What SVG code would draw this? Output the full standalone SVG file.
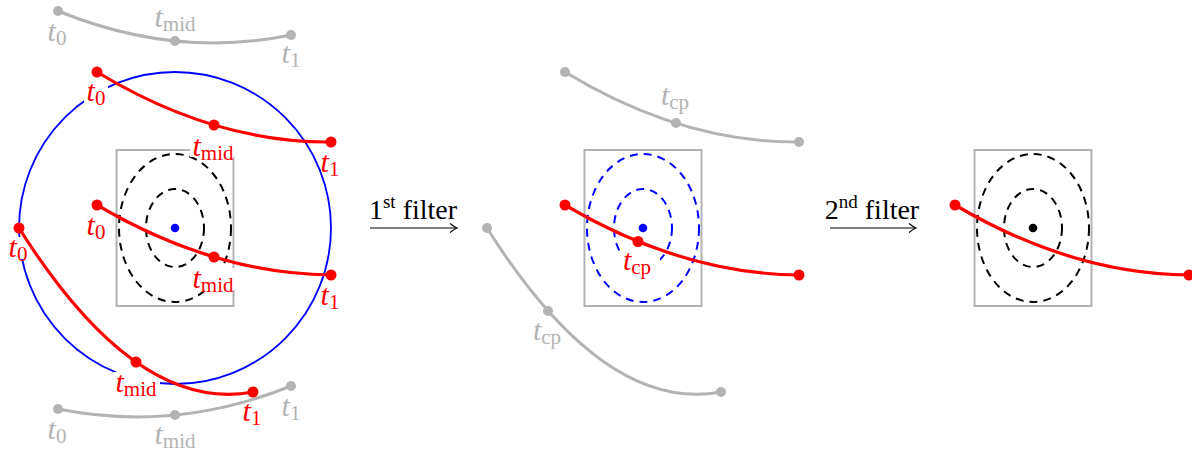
<svg xmlns="http://www.w3.org/2000/svg" width="1192" height="454" viewBox="0 0 1192 454">
<style>
.gl{fill:none;stroke:#b3b3b3;stroke-width:3}
.rl{fill:none;stroke:#ff0000;stroke-width:3.2}
.box{fill:none;stroke:#b3b3b3;stroke-width:2}
.ell{fill:none;stroke:#000;stroke-width:2;stroke-dasharray:8 6}
.bell{fill:none;stroke:#0000ff;stroke-width:2;stroke-dasharray:8 6}
.circ{fill:none;stroke:#0000ff;stroke-width:1.8}
.rd{fill:#ff0000}
.gd{fill:#b3b3b3}
.bg{fill:#fff}
.lbl{font-family:"Liberation Serif","Times New Roman",serif;font-size:30px;text-anchor:middle}
.ft{font-family:"Liberation Serif","Times New Roman",serif;font-size:28px;text-anchor:middle}
.r{fill:#ff0000}
.g{fill:#b3b3b3}
.k{fill:#000}
.t{font-style:italic}
.s{font-size:21px}
.arr{stroke:#000;stroke-width:1.2;fill:none}
</style>
<defs>
<marker id="to" markerUnits="userSpaceOnUse" markerWidth="14" markerHeight="14" refX="0" refY="0" orient="auto" overflow="visible">
<path d="M-7,-4.5 Q-2.5,-1 0,0 Q-2.5,1 -7,4.5" stroke="#000" stroke-width="1.2" fill="none"/>
</marker>
</defs>

<g id="panel-left">
  <g id="left-gray-top">
    <path class="gl" d="M58,11 Q175.5,59 291,35"/>
    <circle class="gd" cx="58" cy="11" r="5"/><circle class="gd" cx="175" cy="41" r="5"/><circle class="gd" cx="291" cy="35" r="5"/>
    <text class="lbl g" x="57" y="41"><tspan class="t">t</tspan><tspan class="s" dy="4">0</tspan></text>
    <text class="lbl g" x="175" y="27"><tspan class="t">t</tspan><tspan class="s" dy="4">mid</tspan></text>
    <text class="lbl g" x="291" y="63"><tspan class="t">t</tspan><tspan class="s" dy="4">1</tspan></text>
  </g>
  <g id="left-gray-bottom">
    <path class="gl" d="M58,409 Q175.5,432.5 291,386"/>
    <circle class="gd" cx="58" cy="409" r="5"/><circle class="gd" cx="175" cy="415" r="5"/><circle class="gd" cx="291" cy="386" r="5"/>
    <text class="lbl g" x="57" y="439"><tspan class="t">t</tspan><tspan class="s" dy="4">0</tspan></text>
    <text class="lbl g" x="175" y="444"><tspan class="t">t</tspan><tspan class="s" dy="4">mid</tspan></text>
    <text class="lbl g" x="291" y="416"><tspan class="t">t</tspan><tspan class="s" dy="4">1</tspan></text>
  </g>
  <circle id="left-circle" class="circ" cx="175" cy="228" r="156"/>
  <g id="left-box">
    <rect class="box" x="116.5" y="150" width="117" height="156"/>
    <ellipse class="ell" cx="175" cy="228" rx="56" ry="74"/>
    <ellipse class="ell" cx="175" cy="228" rx="29" ry="39"/>
    <circle cx="175" cy="228" r="4.3" fill="#0000ff"/>
  </g>
  <g id="left-label-bgs">
    <rect class="bg" x="84" y="81" width="24" height="22"/>
    <rect class="bg" x="190" y="136" width="46" height="21"/>
    <rect class="bg" x="190" y="268" width="46" height="22"/>
    <rect class="bg" x="6" y="237" width="23" height="22"/>
    <rect class="bg" x="114" y="372" width="46" height="22"/>
  </g>
  <g id="left-red-top">
    <path class="rl" d="M97,72 Q214,143 331,142"/>
    <circle class="rd" cx="97" cy="72" r="5.5"/><circle class="rd" cx="214" cy="125" r="5.5"/><circle class="rd" cx="331" cy="142" r="5.5"/>
    <text class="lbl r" x="96" y="101"><tspan class="t">t</tspan><tspan class="s" dy="4">0</tspan></text>
    <text class="lbl r" x="213" y="156"><tspan class="t">t</tspan><tspan class="s" dy="4">mid</tspan></text>
    <text class="lbl r" x="330" y="172"><tspan class="t">t</tspan><tspan class="s" dy="4">1</tspan></text>
  </g>
  <g id="left-red-middle">
    <path class="rl" d="M97,205 Q214,274 331,275"/>
    <circle class="rd" cx="97" cy="205" r="5.5"/><circle class="rd" cx="214" cy="257" r="5.5"/><circle class="rd" cx="331" cy="275" r="5.5"/>
    <text class="lbl r" x="96" y="235"><tspan class="t">t</tspan><tspan class="s" dy="4">0</tspan></text>
    <text class="lbl r" x="213" y="288"><tspan class="t">t</tspan><tspan class="s" dy="4">mid</tspan></text>
    <text class="lbl r" x="330" y="305"><tspan class="t">t</tspan><tspan class="s" dy="4">1</tspan></text>
  </g>
  <g id="left-red-bottom">
    <path class="rl" d="M19,228 Q136,414 253,392"/>
    <circle class="rd" cx="19" cy="228" r="5.5"/><circle class="rd" cx="136" cy="362" r="5.5"/><circle class="rd" cx="253" cy="392" r="5.5"/>
    <text class="lbl r" x="18" y="257"><tspan class="t">t</tspan><tspan class="s" dy="4">0</tspan></text>
    <text class="lbl r" x="136" y="392"><tspan class="t">t</tspan><tspan class="s" dy="4">mid</tspan></text>
    <text class="lbl r" x="252" y="421"><tspan class="t">t</tspan><tspan class="s" dy="4">1</tspan></text>
  </g>
</g>

<g id="connectors">
  <g id="arrow-1">
    <line class="arr" x1="370" y1="228" x2="457" y2="228" marker-end="url(#to)"/>
    <text class="ft k" x="413" y="219">1<tspan font-size="19" dy="-11">st</tspan><tspan dy="11"> filter</tspan></text>
  </g>
  <g id="arrow-2">
    <line class="arr" x1="830" y1="228" x2="916" y2="228" marker-end="url(#to)"/>
    <text class="ft k" x="872" y="219">2<tspan font-size="19" dy="-11">nd</tspan><tspan dy="11"> filter</tspan></text>
  </g>
</g>

<g id="panel-middle">
  <g id="mid-gray-top">
    <path class="gl" d="M565,72 Q682,143 799,142"/>
    <circle class="gd" cx="565" cy="72" r="5"/><circle class="gd" cx="676" cy="123" r="5"/><circle class="gd" cx="799" cy="142" r="5"/>
    <text class="lbl g" x="675" y="105"><tspan class="t">t</tspan><tspan class="s" dy="4">cp</tspan></text>
  </g>
  <g id="mid-gray-bottom">
    <path class="gl" d="M487,228 Q604,414 721,392"/>
    <circle class="gd" cx="487" cy="228" r="5"/><circle class="gd" cx="548" cy="311" r="5"/><circle class="gd" cx="721" cy="392" r="5"/>
    <text class="lbl g" x="547" y="340"><tspan class="t">t</tspan><tspan class="s" dy="4">cp</tspan></text>
  </g>
  <g id="mid-box">
    <rect class="box" x="584.5" y="150" width="117" height="156"/>
    <ellipse class="bell" cx="643" cy="228" rx="56" ry="74"/>
    <ellipse class="bell" cx="643" cy="228" rx="29" ry="39"/>
    <circle cx="643" cy="228" r="4.3" fill="#0000ff"/>
  </g>
  <rect class="bg" x="619" y="252" width="41" height="26"/>
  <g id="mid-red">
    <path class="rl" d="M565,205 Q682,274 799,275"/>
    <circle class="rd" cx="565" cy="205" r="5.5"/><circle class="rd" cx="638" cy="241.5" r="5.5"/><circle class="rd" cx="799" cy="275" r="5.5"/>
    <text class="lbl r" x="637" y="270"><tspan class="t">t</tspan><tspan class="s" dy="4">cp</tspan></text>
  </g>
</g>

<g id="panel-right">
  <g id="right-box">
    <rect class="box" x="974.5" y="150" width="117" height="156"/>
    <ellipse class="ell" cx="1033" cy="228" rx="56" ry="74"/>
    <ellipse class="ell" cx="1033" cy="228" rx="29" ry="39"/>
    <circle cx="1033" cy="228" r="4.3" fill="#000"/>
  </g>
  <g id="right-red">
    <path class="rl" d="M955,205 Q1072,274 1189,275"/>
    <circle class="rd" cx="955" cy="205" r="5.5"/><circle class="rd" cx="1189" cy="275" r="5.5"/>
  </g>
</g>
</svg>
